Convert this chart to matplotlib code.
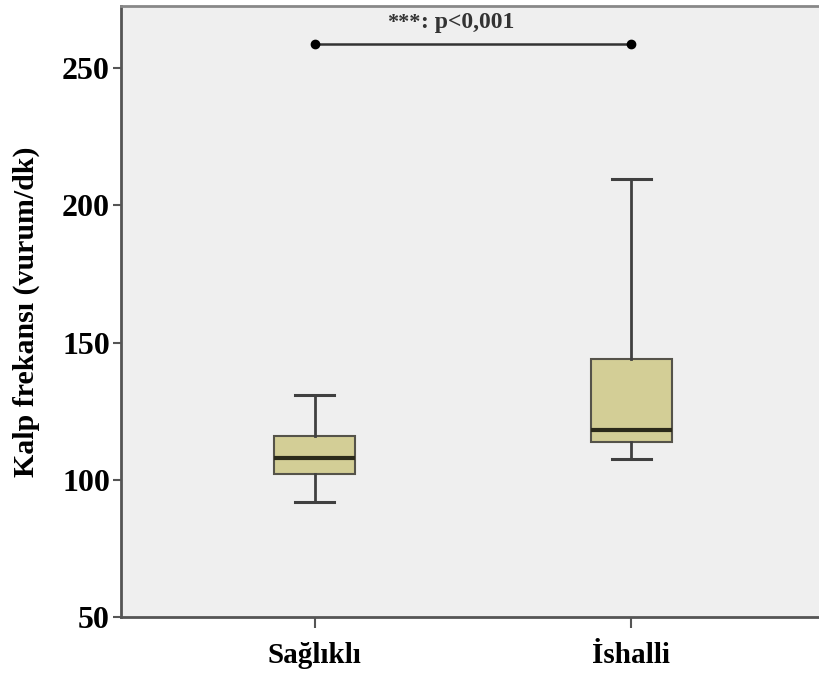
import numpy as np
import matplotlib.pyplot as plt

# box statistics (vurum/dk)
groups = ['Sağlıklı', 'İshalli']
whislo = [92, 107.5]
q1 = [102, 113.7]
med = [108, 118]
q3 = [116, 144]
whishi = [131, 209.5]

sig_y = 258.7
stars = '***'
sig_text = ': p<0,001'
yticks = [50, 100, 150, 200, 250]

plt.rcParams['font.family'] = ['Liberation Serif', 'DejaVu Serif']
plt.rcParams['font.weight'] = 'bold'

fig = plt.figure(figsize=(8.2, 6.74), dpi=100)
ax = fig.add_axes([121/820, 57/674, 700/820, 611/674])
ax.set_facecolor('#efefef')

stats = []
for i in range(len(groups)):
    stats.append(dict(label=groups[i], whislo=whislo[i], q1=q1[i], med=med[i],
                      q3=q3[i], whishi=whishi[i], fliers=[]))

pos = np.arange(1, len(groups) + 1)
ax.bxp(stats, positions=pos, widths=0.256, capwidths=0.123, patch_artist=True,
       boxprops=dict(facecolor='#d3ce96', edgecolor='#55534a', linewidth=1.5),
       medianprops=dict(color='#2b2a1a', linewidth=3),
       whiskerprops=dict(color='#404040', linewidth=2),
       capprops=dict(color='#404040', linewidth=2.2))

# significance bar
ax.plot(pos, [sig_y, sig_y], color='#333333', lw=1.8, marker='o', ms=6,
        markerfacecolor='black', markeredgecolor='black')
ax.text(1.335, sig_y + 4, stars, ha='right', va='bottom',
        fontsize=16, fontweight='bold', color='#333333')
ax.text(1.335, sig_y + 4, sig_text, ha='left', va='bottom',
        fontsize=17, fontweight='bold', color='#333333')

ax.set_xlim(0.388, 2.6)
ax.set_ylim(50, 272.6)
ax.set_yticks(yticks)
ax.set_yticklabels([str(v) for v in yticks], fontsize=23, fontweight='bold')
ax.set_xticks(pos)
ax.set_xticklabels(groups, fontsize=21, fontweight='bold')
ax.tick_params(axis='y', length=6, width=1.5, color='#555555', pad=2)
ax.tick_params(axis='x', length=8, width=1.5, color='#555555', pad=10)
ax.set_ylabel('Kalp frekansı (vurum/dk)', fontsize=21.5, fontweight='bold', labelpad=16)

for s in ['left', 'bottom']:
    ax.spines[s].set_color('#555555')
    ax.spines[s].set_linewidth(2)
ax.spines['top'].set_color('#888888')
ax.spines['top'].set_linewidth(2)
ax.spines['right'].set_visible(False)

fig.savefig('out.png', dpi=100)
